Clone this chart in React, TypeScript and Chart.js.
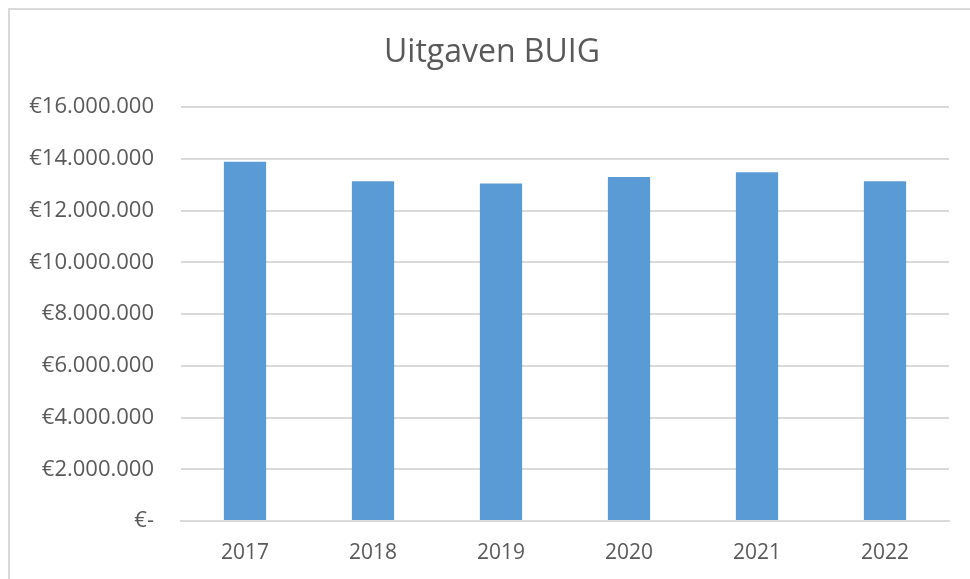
import React, { useEffect, useRef } from "react";
import { Chart, registerables } from "chart.js";

Chart.register(...registerables);

const title = "Uitgaven BUIG";
const categories = ["2017", "2018", "2019", "2020", "2021", "2022"];
const uitgaven = [13880000, 13130000, 13040000, 13290000, 13480000, 13130000];
const yMax = 16000000;
const yStep = 2000000;

function formatEuro(v: number): string {
  if (v === 0) return "€-";
  const s = Math.round(v).toString();
  return "€" + s.replace(/\B(?=(\d{3})+(?!\d))/g, ".");
}

export default function App() {
  const ref = useRef<HTMLCanvasElement | null>(null);
  useEffect(() => {
    if (!ref.current) return;
    const font = "'Open Sans', sans-serif";
    const chart = new Chart(ref.current, {
      type: "bar",
      data: {
        labels: categories,
        datasets: [
          {
            label: title,
            data: uitgaven,
            backgroundColor: "#5B9BD5",
            categoryPercentage: 1,
            barPercentage: 0.33,
          },
        ],
      },
      options: {
        animation: false,
        responsive: false,
        maintainAspectRatio: false,
        layout: { padding: { left: 14, right: 0, top: 0, bottom: 0 } },
        plugins: {
          legend: { display: false },
          tooltip: { enabled: false },
          title: {
            display: true,
            text: title,
            color: "#595959",
            font: { family: font, size: 32, weight: "normal" },
            padding: { top: 34, bottom: 34.6 },
          },
        },
        scales: {
          x: {
            grid: { display: false, drawTicks: false },
            border: { display: true, color: "#d9d9d9", width: 2 },
            ticks: {
              color: "#595959",
              font: { family: font, size: 21 },
              padding: 19,
            },
            afterFit: (scale: any) => {
              scale.height = 58;
            },
          },
          y: {
            min: 0,
            max: yMax,
            grid: { color: "#d9d9d9", lineWidth: 2, drawTicks: false },
            border: { display: false },
            ticks: {
              stepSize: yStep,
              color: "#595959",
              font: { family: font, size: 22 },
              padding: 27,
              callback: (v: any) => formatEuro(Number(v)),
            },
            afterFit: (scale: any) => {
              scale.width = 167;
            },
          },
          yRight: {
            position: "right",
            display: true,
            grid: { display: false, drawTicks: false },
            border: { display: false },
            ticks: { display: false },
            afterFit: (scale: any) => {
              scale.width = 21;
            },
          },
        },
      },
    });
    return () => chart.destroy();
  }, []);
  return (
    <div style={{ position: "fixed", left: 0, top: 0, width: 970, height: 579, overflow: "hidden", background: "#fff" }}>
      <div
        style={{
          position: "absolute",
          left: 8,
          top: 8,
          width: 980,
          height: 600,
          border: "2px solid #d9d9d9",
          boxSizing: "border-box",
        }}
      />
      <canvas ref={ref} width={970} height={579} style={{ position: "absolute", left: 0, top: 0 }} />
    </div>
  );
}
